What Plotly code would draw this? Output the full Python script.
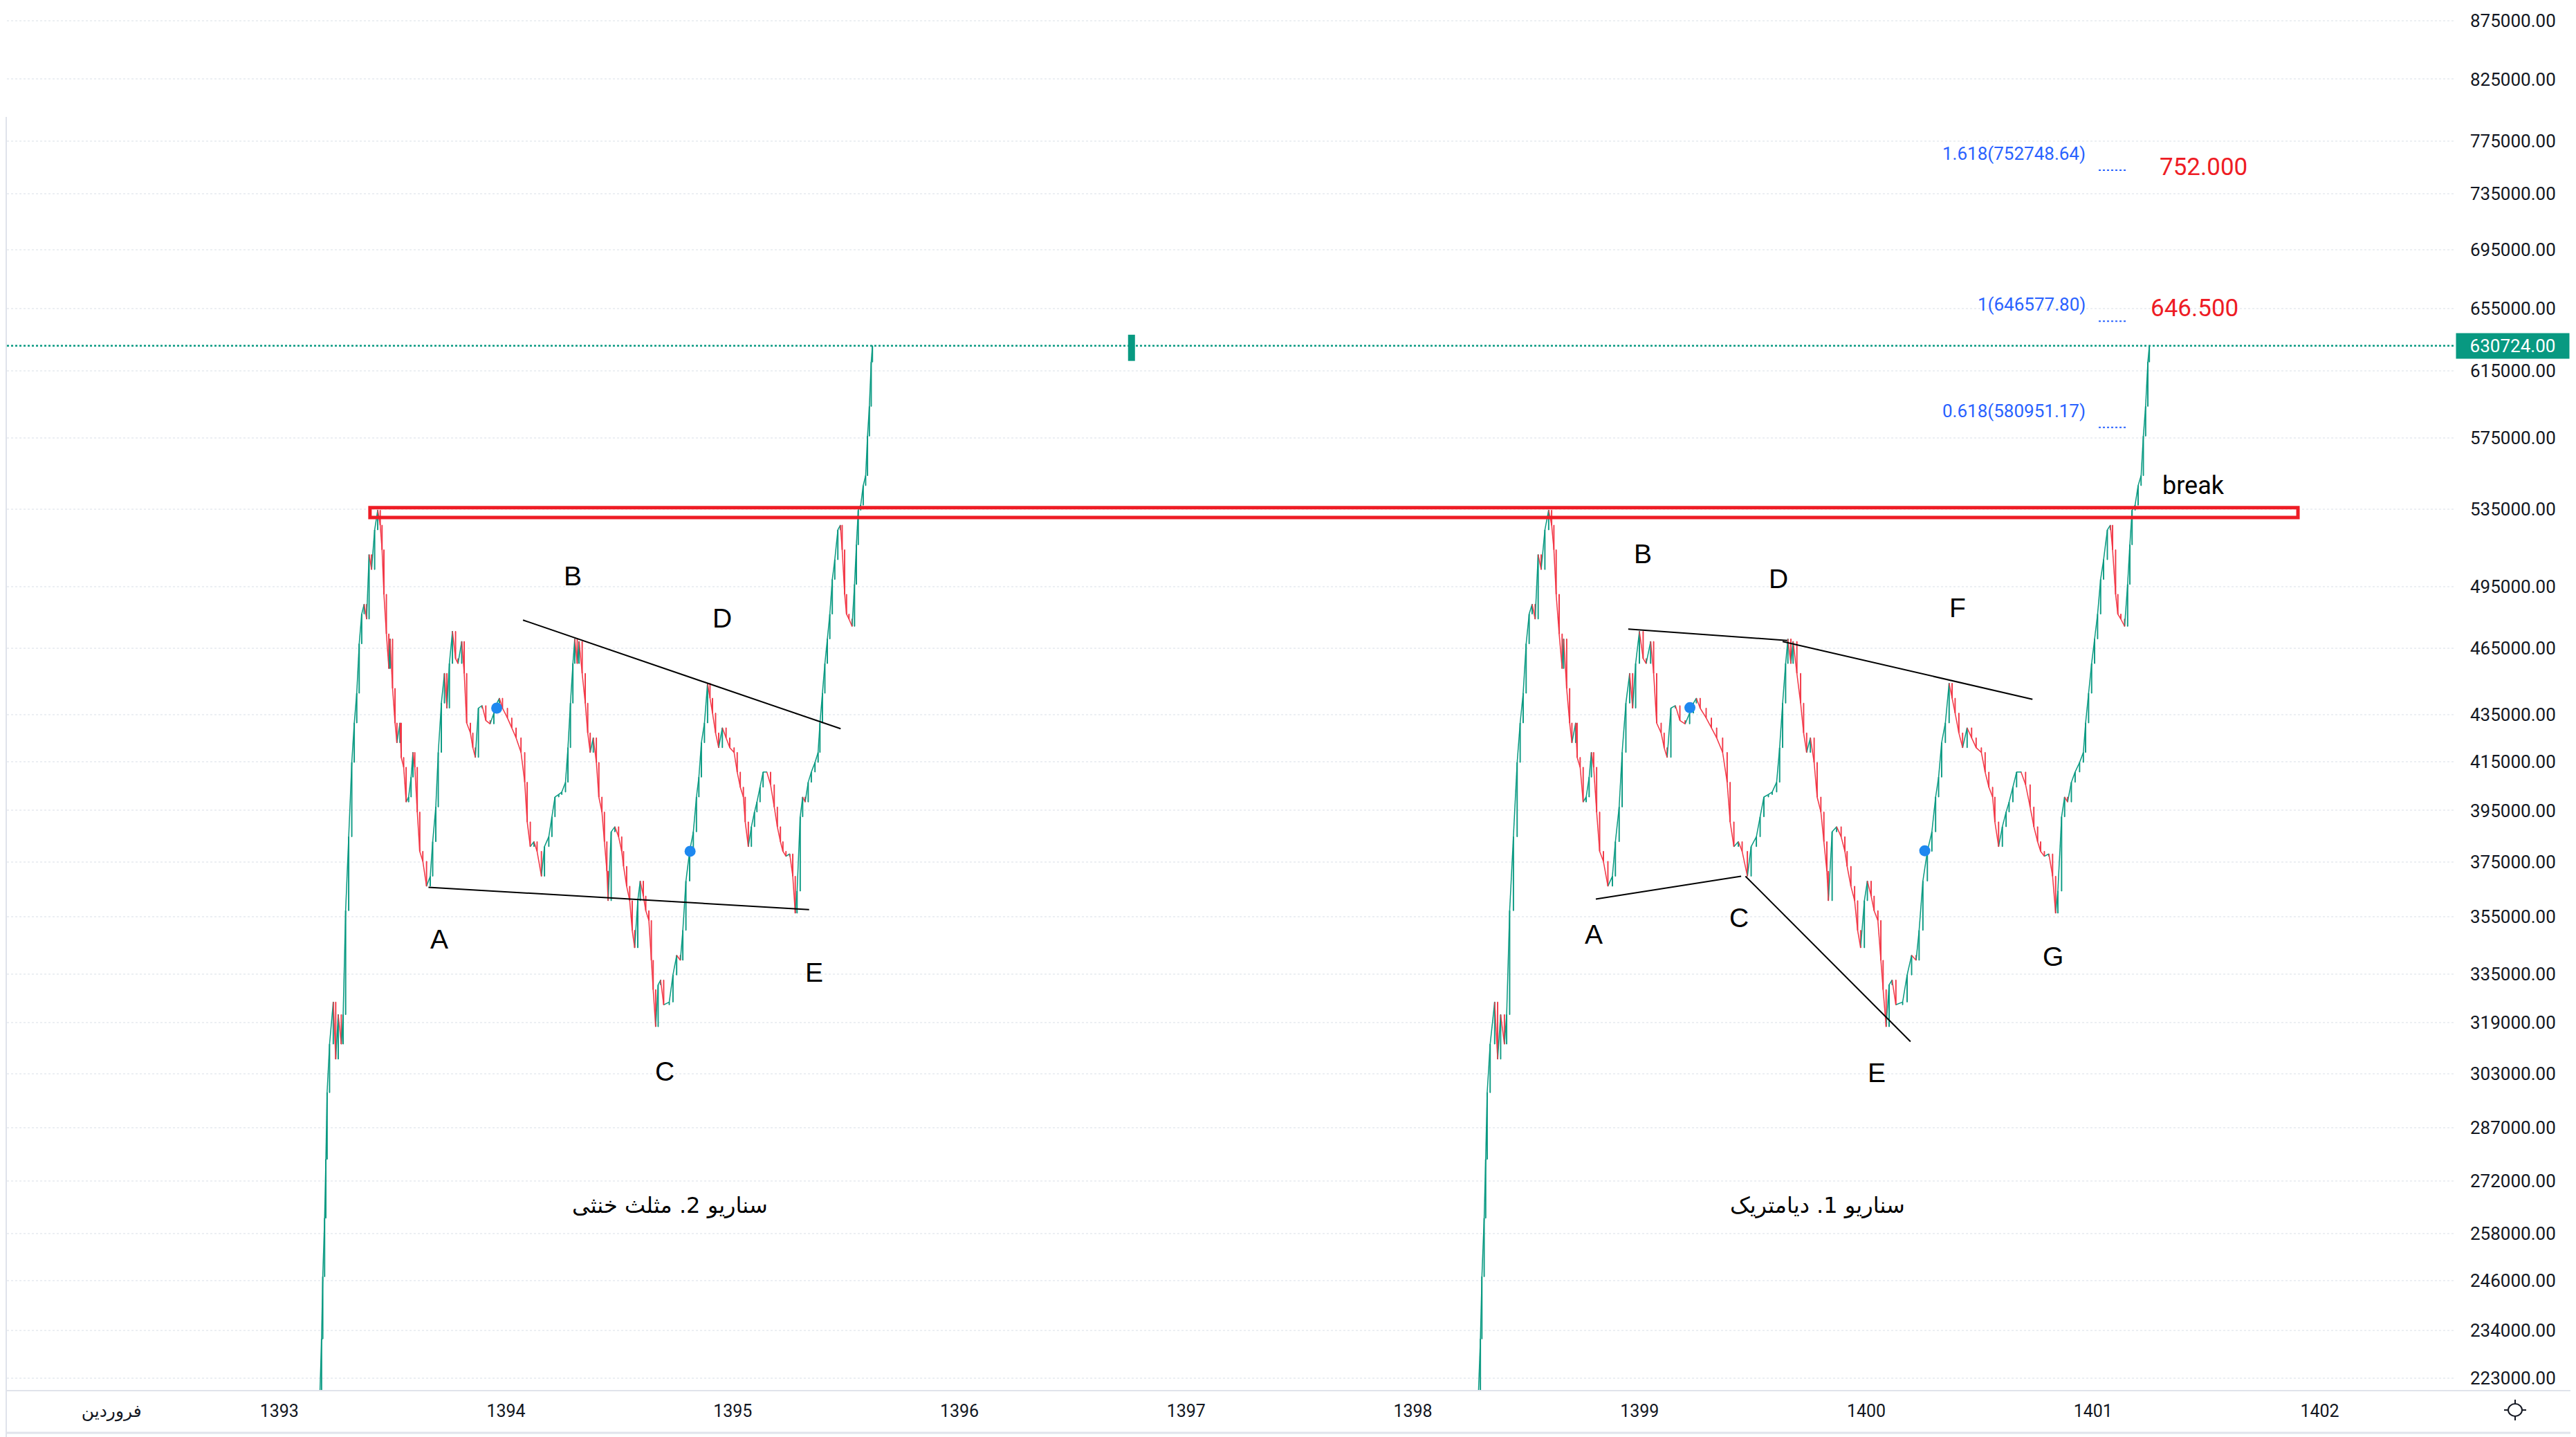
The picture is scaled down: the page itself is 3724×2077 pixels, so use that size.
import math
import plotly.graph_objects as go

# bar positions: trading-day offset from the first bar of the run
days = [
    0, 2, 5, 7, 10, 12,
    14, 18, 24, 28, 32, 37, 40, 44, 49, 54,
    58, 62, 66, 70, 74, 78, 82, 86, 91, 96,
    100, 103, 106, 110, 114, 116, 120, 124, 127, 132,
    134, 138, 142, 146, 150, 153, 156, 160, 164, 169,
    175, 181, 185, 190, 194, 199, 204, 208, 212, 217,
    222, 226, 232, 236, 240, 246, 250, 254, 259, 265,
    271, 278, 284, 289, 293, 298, 306, 313, 320, 328,
    334, 338, 343, 349, 354, 361, 366, 373, 378, 383,
    389, 394, 400, 404, 408, 412, 415, 419, 422, 427,
    432, 436, 440, 445, 450, 454, 459, 463, 467, 469,
    474, 480, 486, 491, 494, 499, 504, 508, 512, 517,
    521, 526, 530, 535, 539, 542, 546, 550, 554, 559,
    568, 574, 580, 586, 590, 595, 601, 607, 612, 616,
    620, 625, 630, 634, 638, 643, 648, 654, 660, 666,
    673, 678, 683, 688, 691, 696, 701, 706, 710, 715,
    720, 726, 732, 738, 743, 748, 752, 757, 763, 768,
    772, 775, 780, 784, 788, 793, 798, 804, 809, 812,
    816, 820, 824, 828, 832, 836, 841, 845, 848, 852,
    855, 859, 864, 868, 871, 874, 878, 882, 886, 889,
    892, 895, 897,
]

closes = [
    205000, 218000, 232000, 247000, 262000, 278000,
    297300, 312200, 325700, 307500, 321600, 312200, 321600, 357100, 384700, 414600,
    431400, 444500, 467200, 481400, 486200, 479000, 511100, 503500, 524000, 534500,
    526500, 513600, 491100, 471900, 455700, 469500, 446700, 431400, 422900, 431400,
    416700, 412600, 398400, 400400, 408500, 418800, 412600, 394400, 379100, 375300,
    366000, 369700, 382800, 396400, 418800, 440100, 453500, 437900, 458000, 473100,
    460300, 458000, 468300, 453500, 431400, 427100, 420800, 416700, 437900, 439000,
    432500, 431000, 435700, 440100, 442300, 437900, 433600, 429300, 425000, 418800,
    406400, 390500, 380900, 382800, 379100, 369700, 380900, 384700, 392500, 400400,
    401400, 402400, 406400, 420800, 440100, 458000, 469500, 458000, 468300, 453500,
    440100, 427100, 418800, 425000, 414600, 400400, 394400, 382800, 371600, 360700,
    386600, 388600, 384700, 379100, 373400, 366000, 360700, 350100, 344000, 360700,
    367900, 362400, 357100, 353600, 339700, 329800, 317700, 331400, 333000, 324800,
    325700, 334700, 341400, 339700, 350100, 367900, 379100, 386600, 400400, 408500,
    422900, 431400, 449000, 442300, 435700, 427100, 420800, 429300, 425000, 420800,
    418800, 410600, 404400, 400400, 390500, 380900, 388600, 394400, 398400, 404400,
    410600, 410600, 405400, 396400, 388600, 382800, 379100, 377200, 378100, 369700,
    356200, 364200, 392500, 400400, 398400, 406400, 410600, 414600, 418800, 431400,
    444500, 458000, 469500, 481400, 498500, 508500, 524000, 526500, 513600, 491100,
    481400, 479000, 475500, 496000, 516200, 534500, 537200, 547900, 553400, 575900,
    593400, 620500, 630724,
]
first_open = 196000

# the run is shown twice: the older run and the recent one (wider bar spacing)
left_start, left_step = 1393.1727, 0.0027242
right_start, right_step = 1398.2814, 0.0033078

year_ticks = [1393, 1394, 1395, 1396, 1397, 1398, 1399, 1400, 1401, 1402]
month_tick = 1392.26
month_label = "فروردین"

price_ticks = [875000, 825000, 775000, 735000, 695000, 655000, 615000, 575000,
               535000, 495000, 465000, 435000, 415000, 395000, 375000, 355000,
               335000, 319000, 303000, 287000, 272000, 258000, 246000, 234000,
               223000]

fib_levels = [0.618, 1, 1.618]
fib_prices = [580951.17, 646577.80, 752748.64]
fib_x = [1401.0252, 1401.1457]

target_text = ["752.000", "646.500"]
target_x = [1401.4875, 1401.4462]
target_y = [755300, 654970]

zone_x = [1393.400, 1401.904]
zone_y = [530600, 535900]

# wave labels (text, time, price)
wave_labels = [
    ("A", 1393.704, 347000), ("B", 1394.294, 500200), ("C", 1394.699, 303700),
    ("D", 1394.953, 479500), ("E", 1395.358, 335500),
    ("A", 1398.799, 348600), ("B", 1399.014, 511500), ("C", 1399.439, 354500),
    ("D", 1399.611, 499000), ("E", 1400.046, 303300), ("F", 1400.403, 484300),
    ("G", 1400.825, 341100),
]
# trend lines (t0, p0, t1, p1)
trend_lines = [
    (1394.075, 478500, 1395.476, 428900),
    (1393.658, 365600, 1395.337, 357500),
    (1398.950, 474200, 1399.651, 468800),
    (1399.631, 468300, 1400.733, 441800),
    (1398.807, 361300, 1399.448, 369700),
    (1399.467, 369700, 1400.195, 313000),
]
dot_t = [1393.959, 1394.812, 1399.222, 1400.258]
dot_p = [437900, 379100, 438100, 379300]

scenario_text = ["سناریو 2. مثلث خنثی", "سناریو 1. دیامتریک"]
scenario_t = [1394.7216, 1399.7834]
scenario_p = [265400, 265400]

break_text = ("break", 1401.443, 548000)
stray_bar = (1396.759, 621200, 637800)

GREEN = "#089981"
RED = "#f23645"
MARK_RED = "#ee1c25"
FIB_BLUE = "#2962ff"
TEXT = "#131722"
BORDER = "#e0e3eb"
FONT = "Roboto, DejaVu Sans, sans-serif"

opens = [first_open] + closes[:-1]
highs = [max(o, c) for o, c in zip(opens, closes)]
lows = [min(o, c) for o, c in zip(opens, closes)]

fig = go.Figure()


def add_run(start, step):
    x = [start + d * step for d in days]
    for rising, color in ((True, GREEN), (False, RED)):
        xs, ys = [], []
        for i in range(1, len(closes)):
            if (closes[i] >= closes[i - 1]) == rising:
                xs += [x[i - 1], x[i], None]
                ys += [closes[i - 1], closes[i], None]
        fig.add_trace(go.Scatter(x=xs, y=ys, mode="lines",
                                 line=dict(color=color, width=1.5),
                                 hoverinfo="skip", showlegend=False))
    fig.add_trace(go.Candlestick(
        x=x, open=opens, high=highs, low=lows, close=closes,
        increasing=dict(line=dict(color=GREEN, width=1), fillcolor=GREEN),
        decreasing=dict(line=dict(color=RED, width=1), fillcolor=RED),
        whiskerwidth=0, hoverinfo="skip", showlegend=False))


add_run(left_start, left_step)
add_run(right_start, right_step)

fig.add_trace(go.Scatter(x=dot_t, y=dot_p, mode="markers",
                         marker=dict(color="#1e88f0", size=16),
                         hoverinfo="skip", showlegend=False))

# last price line
fig.add_shape(type="line", xref="paper", yref="y", x0=0, x1=1,
              y0=closes[-1], y1=closes[-1],
              line=dict(color=GREEN, width=2.5, dash="dot"))

# resistance zone
fig.add_shape(type="rect", x0=zone_x[0], x1=zone_x[1], y0=zone_y[0], y1=zone_y[1],
              line=dict(color=MARK_RED, width=5))

for t0, p0, t1, p1 in trend_lines:
    fig.add_shape(type="line", x0=t0, x1=t1, y0=p0, y1=p1,
                  line=dict(color="#000000", width=2))

t, p0, p1 = stray_bar
fig.add_shape(type="rect", x0=t - 0.0153, x1=t + 0.0153, y0=p0, y1=p1,
              line=dict(width=0), fillcolor=GREEN)


def label(text, x, price, size, color, family=FONT, **kw):
    fig.add_annotation(x=x, y=math.log10(price), text=text, showarrow=False,
                       font=dict(family=family, size=size, color=color), **kw)


for lvl, price in zip(fib_levels, fib_prices):
    fig.add_shape(type="line", x0=fib_x[0], x1=fib_x[1], y0=price, y1=price,
                  line=dict(color=FIB_BLUE, width=2, dash="dot"))
    label(f"{lvl:g}({price:.2f})", fib_x[0], price, 26, FIB_BLUE,
          xanchor="right", xshift=-17, yshift=24)

for txt, x, price in zip(target_text, target_x, target_y):
    label(txt, x, price, 35, MARK_RED)

label(break_text[0], break_text[1], break_text[2], 36, "#000000")

for txt, x, price in wave_labels:
    label(txt, x, price, 39, "#000000", family="Liberation Sans, Arial, sans-serif")

for txt, x, price in zip(scenario_text, scenario_t, scenario_p):
    label(txt, x, price, 32, "#000000", family="DejaVu Sans, sans-serif")

# last price tag on the price scale
fig.add_annotation(xref="paper", x=1, xanchor="left", yref="y",
                   y=math.log10(closes[-1]), text=f"{closes[-1]:.2f}",
                   showarrow=False, bgcolor=GREEN, width=151, height=24,
                   borderpad=6, align="center",
                   font=dict(family=FONT, size=26, color="#ffffff"))

# the page body adds 8px around the figure, so the figure is 16px smaller
fig_w, fig_h = 3716, 2069
pw = fig_w - 2 - 174
ph = fig_h - 67
fig.add_shape(type="rect", xref="paper", yref="paper", x0=-2 / pw, x1=0,
              y0=-67 / ph, y1=1 - 161 / ph, line=dict(width=0), fillcolor=BORDER)
fig.add_shape(type="line", xref="paper", yref="paper", x0=0, x1=1 + 174 / pw,
              y0=0, y1=0, line=dict(color=BORDER, width=2))
fig.add_shape(type="line", xref="paper", yref="paper", x0=-2 / pw, x1=1 + 174 / pw,
              y0=-61 / ph, y1=-61 / ph, line=dict(color=BORDER, width=3))

# settings icon on the scale corner: ring with four short spokes
cx, cy = 3626 / pw, -28 / ph
fig.add_shape(type="circle", xref="paper", yref="paper",
              x0=cx - 10 / pw, x1=cx + 10 / pw, y0=cy - 9 / ph, y1=cy + 9 / ph,
              line=dict(color=TEXT, width=2))
for dx, dy in ((1, 0), (-1, 0), (0, 1), (0, -1)):
    fig.add_shape(type="line", xref="paper", yref="paper",
                  x0=cx + dx * 10 / pw, x1=cx + dx * 16 / pw,
                  y0=cy + dy * 9 / ph, y1=cy + dy * 15 / ph,
                  line=dict(color=TEXT, width=2))

fig.update_layout(
    width=fig_w, height=fig_h,
    margin=dict(l=2, r=174, t=0, b=67),
    paper_bgcolor="#ffffff", plot_bgcolor="#ffffff",
    showlegend=False,
    xaxis=dict(
        range=[1391.7986, 1402.5995],
        tickvals=[month_tick] + year_ticks,
        ticktext=[month_label] + [str(y) for y in year_ticks],
        tickfont=dict(family=FONT, size=25, color=TEXT),
        showgrid=False, zeroline=False, showline=False, ticks="",
        ticklabelstandoff=12,
        rangeslider=dict(visible=False), automargin=False,
    ),
    yaxis=dict(
        type="log", side="right",
        range=[math.log10(220220), math.log10(888520)],
        tickvals=price_ticks,
        ticktext=[f"{v:.2f}" for v in price_ticks],
        tickfont=dict(family=FONT, size=26, color=TEXT),
        showgrid=True, gridcolor="#eceff3", griddash="dot", gridwidth=2,
        zeroline=False, showline=False, ticks="",
        ticklabelstandoff=20, automargin=False,
    ),
)

fig.write_html("out.html")
